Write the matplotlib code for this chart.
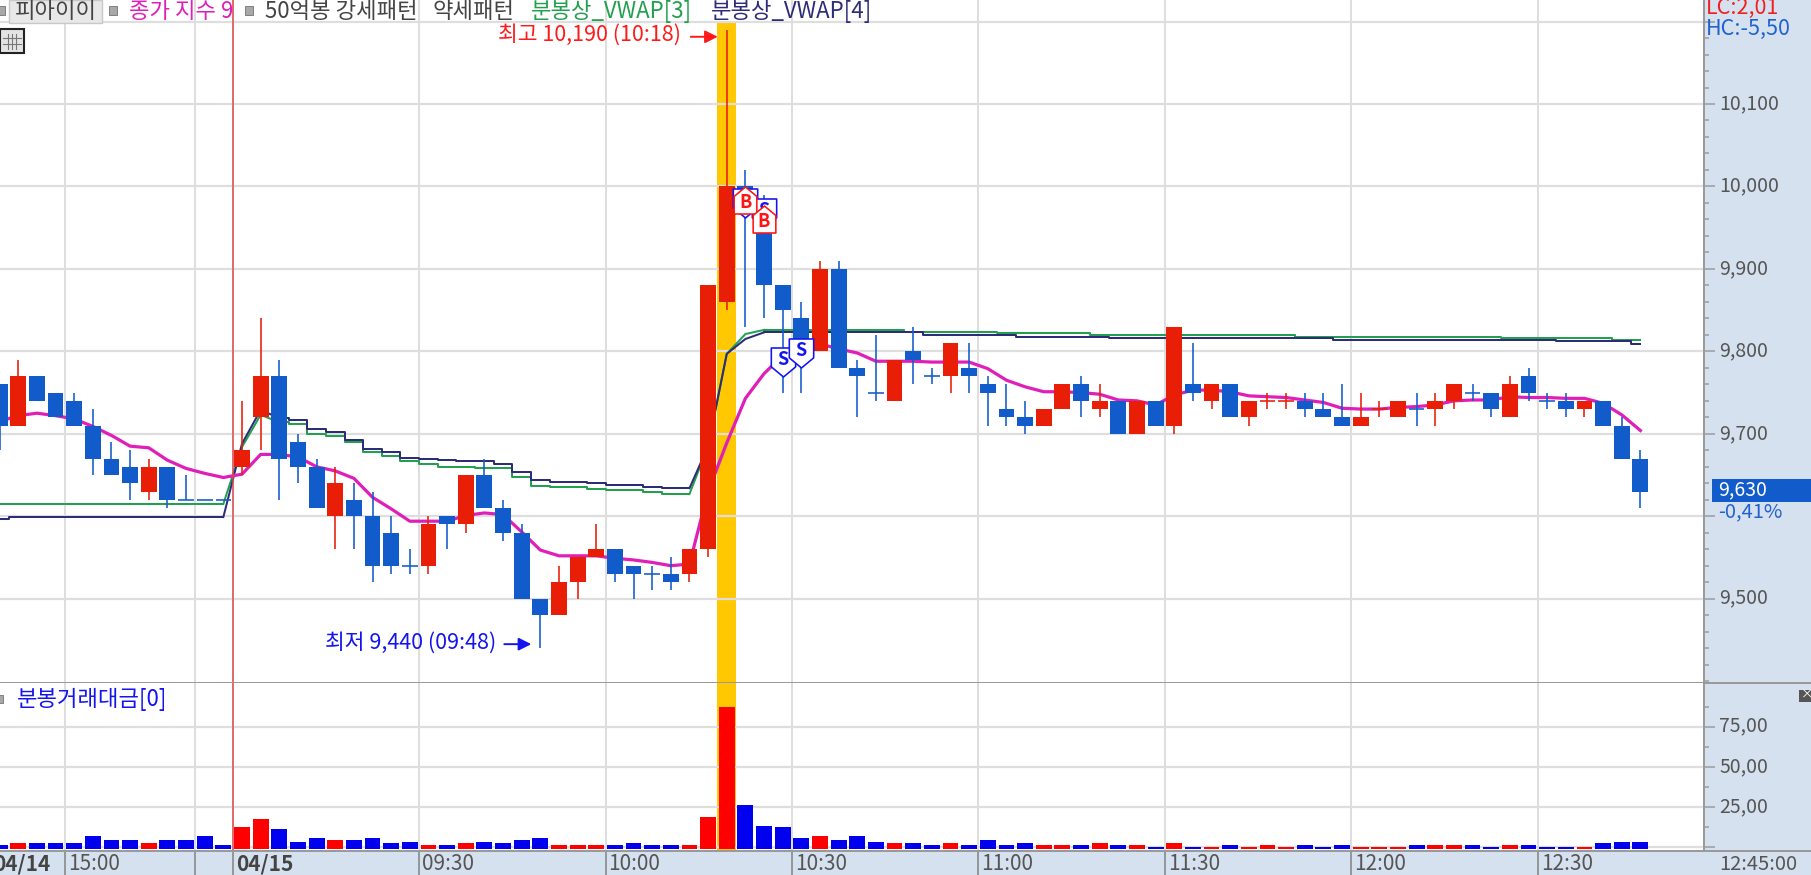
import matplotlib
matplotlib.use("Agg")
import matplotlib.pyplot as plt
import numpy as np
from matplotlib.lines import Line2D
from matplotlib.patches import Rectangle
from matplotlib.path import Path
from matplotlib.ticker import FixedLocator
from matplotlib.transforms import ScaledTranslation

W, H = 1811, 875
FONT = ["Noto Sans CJK KR", "DejaVu Sans"]
plt.rcParams["font.family"] = FONT

# candles, 3 min each, candle 0 = 04/15 09:00
first_k = -13
tops = [9760, 9770, 9770, 9750, 9740, 9710, 9670, 9660, 9660, 9660,
        9620, 9620, 9620, 9680, 9770, 9770, 9690, 9660, 9640, 9620,
        9600, 9580, 9540, 9590, 9600, 9650, 9650, 9610, 9580, 9500,
        9520, 9550, 9560, 9560, 9540, 9530, 9530, 9560, 9880, 10000,
        10000, 9960, 9880, 9840, 9900, 9900, 9780, 9750, 9790, 9800,
        9770, 9810, 9780, 9760, 9730, 9720, 9730, 9760, 9760, 9740,
        9740, 9740, 9740, 9830, 9760, 9760, 9760, 9740, 9740, 9740,
        9740, 9730, 9720, 9720, 9730, 9740, 9730, 9740, 9760, 9750,
        9750, 9760, 9770, 9740, 9740, 9740, 9740, 9710, 9670]
bottoms = [9710, 9710, 9740, 9720, 9710, 9670, 9650, 9640, 9630, 9620,
           9620, 9620, 9620, 9660, 9720, 9670, 9660, 9610, 9600, 9600,
           9540, 9540, 9540, 9540, 9590, 9590, 9610, 9580, 9500, 9480,
           9480, 9520, 9550, 9530, 9530, 9530, 9520, 9530, 9560, 9860,
           9970, 9880, 9850, 9810, 9800, 9780, 9770, 9750, 9740, 9790,
           9770, 9770, 9770, 9750, 9720, 9710, 9710, 9730, 9740, 9730,
           9700, 9700, 9710, 9710, 9750, 9740, 9720, 9720, 9740, 9740,
           9730, 9720, 9710, 9710, 9730, 9720, 9730, 9730, 9740, 9750,
           9730, 9720, 9750, 9740, 9730, 9730, 9710, 9670, 9630]
highs = [9760, 9790, 9770, 9750, 9750, 9730, 9690, 9680, 9670, 9660,
         9650, 9620, 9620, 9740, 9840, 9790, 9700, 9670, 9660, 9640,
         9630, 9600, 9560, 9600, 9600, 9650, 9670, 9620, 9590, 9500,
         9540, 9550, 9590, 9560, 9540, 9540, 9550, 9560, 9880, 10190,
         10020, 9990, 9880, 9860, 9910, 9910, 9790, 9820, 9790, 9830,
         9780, 9810, 9810, 9770, 9760, 9740, 9730, 9760, 9770, 9760,
         9740, 9740, 9740, 9830, 9810, 9760, 9760, 9740, 9750, 9750,
         9750, 9750, 9760, 9750, 9740, 9740, 9750, 9750, 9760, 9760,
         9750, 9770, 9780, 9750, 9750, 9740, 9740, 9720, 9680]
lows = [9680, 9710, 9740, 9720, 9710, 9650, 9650, 9620, 9620, 9610,
        9620, 9620, 9620, 9650, 9680, 9620, 9640, 9610, 9560, 9560,
        9520, 9530, 9530, 9530, 9560, 9580, 9610, 9570, 9500, 9440,
        9480, 9500, 9550, 9520, 9500, 9510, 9510, 9520, 9550, 9850,
        9830, 9840, 9750, 9750, 9800, 9780, 9720, 9740, 9740, 9760,
        9760, 9750, 9750, 9710, 9710, 9700, 9710, 9730, 9720, 9720,
        9700, 9700, 9710, 9700, 9740, 9730, 9720, 9710, 9730, 9730,
        9720, 9720, 9710, 9710, 9720, 9720, 9710, 9710, 9730, 9740,
        9720, 9720, 9740, 9730, 9720, 9720, 9710, 9670, 9610]
sides = ("brbbbbbbrb" "bbbrrbbbrb" "bbbrbrbbbb" "rrrbbbbrrr" "bbbbrbbbrb"
         "brbbbbrrbr" "brbrbrbrrr" "bbbrrrbrrb" "brbbbrbbb")

# 종가 지수 9
close_index = [9715, 9722, 9725, 9722, 9718, 9709, 9698, 9685, 9683, 9668,
               9658, 9652, 9647, 9651, 9675, 9675, 9672, 9660, 9655, 9646,
               9623, 9609, 9594, 9594, 9594, 9601, 9604, 9602, 9581, 9559,
               9552, 9552, 9552, 9549, 9547, 9544, 9540, 9542, 9630, 9689,
               9743, 9773, 9795, 9805, 9809, 9803, 9798, 9788, 9788, 9788,
               9787, 9787, 9787, 9779, 9765, 9757, 9751, 9751, 9750, 9748,
               9741, 9740, 9735, 9747, 9753, 9753, 9751, 9746, 9745, 9744,
               9741, 9738, 9731, 9730, 9730, 9732, 9733, 9735, 9740, 9741,
               9741, 9745, 9744, 9744, 9743, 9743, 9737, 9723, 9704]

vwap3 = [9615] * 13 + [9684, 9723, 9714, 9712, 9700, 9697, 9690, 9678, 9673, 9667,
         9663, 9660, 9660, 9659, 9658, 9648, 9637, 9635, 9635, 9633, 9632,
         9632, 9629, 9627, 9627, 9685, 9797, 9821] + [9826] * 8 + [9824] * 5 \
         + [9822] * 5 + [9820] * 11 + [9818] * 11 + [9816] * 6 + [9814] * 2
vwap4 = [9597] + [9599] * 12 + [9688, 9729, 9719, 9717, 9706, 9702, 9693, 9682, 9678, 9671,
         9669, 9668, 9667, 9667, 9663, 9654, 9644, 9642, 9642, 9640, 9638,
         9638, 9635, 9634, 9634, 9685, 9797, 9815] + [9823] * 9 + [9820] * 5 \
         + [9818] * 5 + [9816] * 12 + [9814] * 12 + [9812] * 4 + [9809]

# 분봉거래대금
volume = [1.4, 2.4, 2.4, 2.4, 2.4, 6.8, 4.5, 4.5, 2.4, 4.5,
          4.5, 6.8, 1.4, 12.4, 17.8, 11.1, 3.4, 5.7, 4.5, 4.5,
          5.7, 2.4, 3.4, 1.4, 1.4, 2.4, 3.4, 2.4, 4.5, 5.7,
          1.4, 1.4, 1.4, 1.4, 2.4, 1.4, 1.4, 1.4, 18.8, 87.5,
          26.5, 13.4, 12.4, 5.7, 6.8, 4.5, 6.8, 3.4, 2.4, 2.4,
          1.4, 2.4, 1.4, 4.5, 1.4, 2.4, 1.4, 1.4, 1.4, 2.4,
          1.4, 1.4, 0.3, 2.4, 0.3, 0.3, 1.4, 0.3, 1.4, 0.3,
          1.4, 0.3, 1.4, 0.3, 0.3, 0.3, 1.4, 1.4, 1.4, 1.4,
          0.3, 1.4, 1.4, 0.3, 0.3, 0.3, 2.4, 3.4, 3.4]

# signals
sell_k = [27, 28, 29, 30]
sell_p = [9980, 9968, 9787, 9798]
buy_k = [27, 28]
buy_p = [9984, 9960]

price_ticks = [9500, 9600, 9700, 9800, 9900, 10000, 10100, 10200]
price_labels = ["9,500", "", "9,700", "9,800", "9,900", "10,000", "10,100", ""]
vol_ticks = [0, 25, 50, 75]
vol_labels = ["", "25,00", "50,00", "75,00"]
grid_k = [-9.5, -2.5, -0.5, 9.5, 19.5, 29.5, 39.5, 49.5, 59.5, 69.5]
time_labels = ["15:00", "", "04/15", "09:30", "10:00", "10:30", "11:00", "11:30", "12:00", "12:30"]

RED = "#e81e07"
BLUE = "#125bca"
GRAY = "#555555"
AXIS = "#9a9a9a"
GRID = "#dedede"
STRIP = "#d6e1ef"
PINK = "#e01fb8"
GREEN = "#22a04e"
NAVY = "#2c2c78"


def px(p):
    return p * 0.72


fig = plt.figure(figsize=(W / 100, H / 100), dpi=100, facecolor=STRIP)
ax = fig.add_axes([0, (H - 683) / H, 1704 / W, 683 / H])
vax = fig.add_axes([0, (H - 851) / H, 1704 / W, (851 - 683) / H])


def label(x, y, s, color=GRAY, size=16, **kw):
    fig.text(x / W, 1 - y / H, s, color=color, fontsize=size, va="center", ha="left", **kw)


def box(x, y, w, h, fc, ec="none", lw=0):
    fig.add_artist(Rectangle((x / W, 1 - (y + h) / H), w / W, h / H, transform=fig.transFigure,
                             fc=fc, ec=ec, lw=lw))


k = np.arange(first_k, first_k + len(tops))
tops = np.array(tops)
bottoms = np.array(bottoms)
highs = np.array(highs)
lows = np.array(lows)
colors = [RED if s == "r" else BLUE for s in sides]
vcolors = ["#ff0000" if s == "r" else "#0000ee" for s in sides]

for a in (ax, vax):
    a.set_xlim(-242 / 18.645, (1704 - 242) / 18.645)
    a.axvline(-0.5, color="#e04848", lw=px(1.5), zorder=2.5)
    a.set_xticks(grid_k)
    a.xaxis.grid(True, color=GRID, lw=px(2))
    a.yaxis.grid(True, color=GRID, lw=px(2.2))
    a.set_axisbelow(True)
    a.yaxis.tick_right()
    for side in ("top", "left"):
        a.spines[side].set_visible(False)
    for side in ("right", "bottom"):
        a.spines[side].set_color(AXIS)
        a.spines[side].set_linewidth(px(2))
    a.tick_params(axis="y", which="major", length=px(11), width=px(1.5), color=AXIS,
                  labelsize=14, labelcolor=GRAY, pad=px(4))
    a.tick_params(axis="y", which="minor", length=px(5), width=px(1.5), color=AXIS)

# price pane
ax.set_ylim(10100 - (683 - 104) / 0.8245, 10100 + 104 / 0.8245)
ymin, ymax = ax.get_ylim()
ax.axvspan(25.5, 26.5, ymax=(10200 - ymin) / (ymax - ymin), color="#ffc800", lw=0, zorder=0)
ax.set_yticks(price_ticks, labels=price_labels)
ax.yaxis.set_minor_locator(FixedLocator(np.arange(9400, 10201, 20)))
ax.tick_params(axis="x", length=0, labelbottom=False)


def draw_vwap(values, color):
    values = np.array(values)
    flat_a = k <= -1
    slope_a = (k >= -1) & (k <= 2)
    flat_b = (k >= 2) & (k <= 24)
    slope_b = (k >= 24) & (k <= 28)
    flat_c = k >= 28
    for mask, style in ((flat_a, "steps-mid"), (slope_a, "default"), (flat_b, "steps-mid"),
                        (slope_b, "default"), (flat_c, "steps-mid")):
        ax.plot(k[mask], values[mask], color=color, lw=px(2), drawstyle=style, zorder=2)


draw_vwap(vwap3, GREEN)
draw_vwap(vwap4, NAVY)
ax.plot(k, close_index, color=PINK, lw=px(3.2), zorder=2.2)

ax.vlines(k, lows, highs, colors=colors, lw=px(1.6), zorder=3)
ax.bar(k, tops - bottoms, bottom=bottoms, width=0.85, color=colors, lw=0, zorder=3.1)
doji = tops == bottoms
ax.hlines(tops[doji], k[doji] - 0.42, k[doji] + 0.42, colors=np.array(colors)[doji], lw=px(1.6), zorder=3.1)

# hi / lo labels, offsets in pixels from the extreme of the wick
hi_i = highs.argmax()
lo_i = lows.argmin()
marks = ((k[hi_i], highs[hi_i], -46, "#ff1a1a", "최고 10,190 (10:18)", -5, -7),
         (k[lo_i], lows[lo_i], -44, "#1414f0", "최저 9,440 (09:48)", 5, 4))
for x, y, off, col, txt, ty, ay in marks:
    ax.annotate(txt, xy=(x, y), xytext=(off, ty), textcoords="offset pixels", color=col,
                fontsize=15.5, ha="right", va="center", zorder=5)
    start = ax.transData.transform((x, y))
    ax.annotate("", xy=(start[0] - 9, start[1] + ay), xycoords="figure pixels",
                xytext=(start[0] - 36, start[1] + ay), textcoords="figure pixels",
                arrowprops=dict(arrowstyle="-|>", color=col, lw=1.4, mutation_scale=19, shrinkA=0, shrinkB=0),
                zorder=5)

# signal markers
down = Path([(-0.84, 1), (0.84, 1), (0.84, -0.3), (0, -1), (-0.84, -0.3), (-0.84, 1)], closed=True)
up = Path([(-0.84, -1), (0.84, -1), (0.84, 0.3), (0, 1), (-0.84, 0.3), (-0.84, -1)], closed=True)
ax.plot(sell_k, sell_p, ls="none", marker=down, ms=px(29), mfc="white", mec="#1414f0", mew=px(1.6), zorder=4)
for x, y in zip(sell_k, sell_p):
    ax.text(x, y + 3, "S", color="#1414f0", fontsize=13, fontweight="bold", ha="center", va="center", zorder=4.1)
ax.plot(buy_k, buy_p, ls="none", marker=up, ms=px(27), mfc="white", mec="#ff1414", mew=px(1.6), zorder=4.2)
for x, y in zip(buy_k, buy_p):
    ax.text(x, y - 3, "B", color="#ff1414", fontsize=13, fontweight="bold", ha="center", va="center", zorder=4.3)

# volume pane
vax.set_ylim((847.2 - 851) / 1.606, (847.2 - 683) / 1.606)
vax.axvspan(25.5, 26.5, color="#ffc800", lw=0, zorder=0)
vax.bar(k, np.array(volume) + 1, bottom=-1, width=0.85, color=vcolors, lw=0, zorder=3)
vax.set_yticks(vol_ticks, labels=vol_labels)
vax.yaxis.set_minor_locator(FixedLocator([12.5, 37.5, 62.5, 87.5]))
vax.tick_params(axis="x", length=px(24), width=px(1.5), color="#808080", direction="out", labelbottom=False)
for x, s in zip(grid_k, time_labels):
    vax.annotate(s, xy=(x, 0), xycoords=vax.get_xaxis_transform(), xytext=(3, -13),
                 textcoords="offset pixels", color="#444444" if "/" in s else GRAY, fontsize=15,
                 fontweight="bold" if "/" in s else "normal", ha="left", va="center", annotation_clip=False)
vax.annotate("04/14", xy=(-13.5, 0), xycoords=vax.get_xaxis_transform(), xytext=(3, -13),
             textcoords="offset pixels", color="#444444", fontsize=15, fontweight="bold",
             ha="left", va="center", annotation_clip=False)

# value labels sit a little above their ticks
lift = ScaledTranslation(0, 3 / 100, fig.dpi_scale_trans)
for a in (ax, vax):
    for t in a.get_yticklabels():
        t.set_transform(t.get_transform() + lift)

# header row
box(9, 0, 93, 23, "#e8e8e8", "#c8c8c8", 1)
for x in (-3, 109, 245):
    box(x, 6, 8, 9, "#a8a8a8", "#808080", 0.7)
label(15, 11, "피아이이", "#444444")
label(129, 11, "종가 지수 9", PINK)
label(265, 11, "50억봉 강세패턴", "#444444")
label(433, 11, "약세패턴", "#444444")
label(531, 11, "분봉상_VWAP[3]", GREEN)
label(711, 11, "분봉상_VWAP[4]", NAVY)
label(17, 699, "분봉거래대금[0]", "#1414f0")
box(-3, 695, 6, 8, "#a8a8a8", "#808080", 0.7)

# table icon
box(0, 29, 24, 24, "#e4e4e4", "#222222", 1.5)
for x in (8, 12, 16):
    fig.add_artist(Line2D([x / W, x / W], [1 - 34 / H, 1 - 49 / H], color="#777777", lw=0.8))
for y in (38, 44):
    fig.add_artist(Line2D([3 / W, 21 / W], [1 - y / H, 1 - y / H], color="#777777", lw=0.8))

# right strip
box(1704, 682, 107, 2, AXIS)
box(1704, 850, 107, 2, AXIS)
label(1706, 8, "LC:2,01", "#f02020", 15.5)
label(1706, 29, "HC:-5,50", "#1f62d0", 15.5)
box(1712, 479, 99, 23, BLUE)
label(1718, 490, "9,630", "white", 14)
label(1718, 512, "-0,41%", "#1f62d0", 14.5)
box(1799, 690, 12, 12, "#555555")
label(1801, 695, "×", "white", 9)
label(1719, 864, "12:45:00", GRAY, 14.5)

fig.savefig("out.png", dpi=100, facecolor=fig.get_facecolor())
